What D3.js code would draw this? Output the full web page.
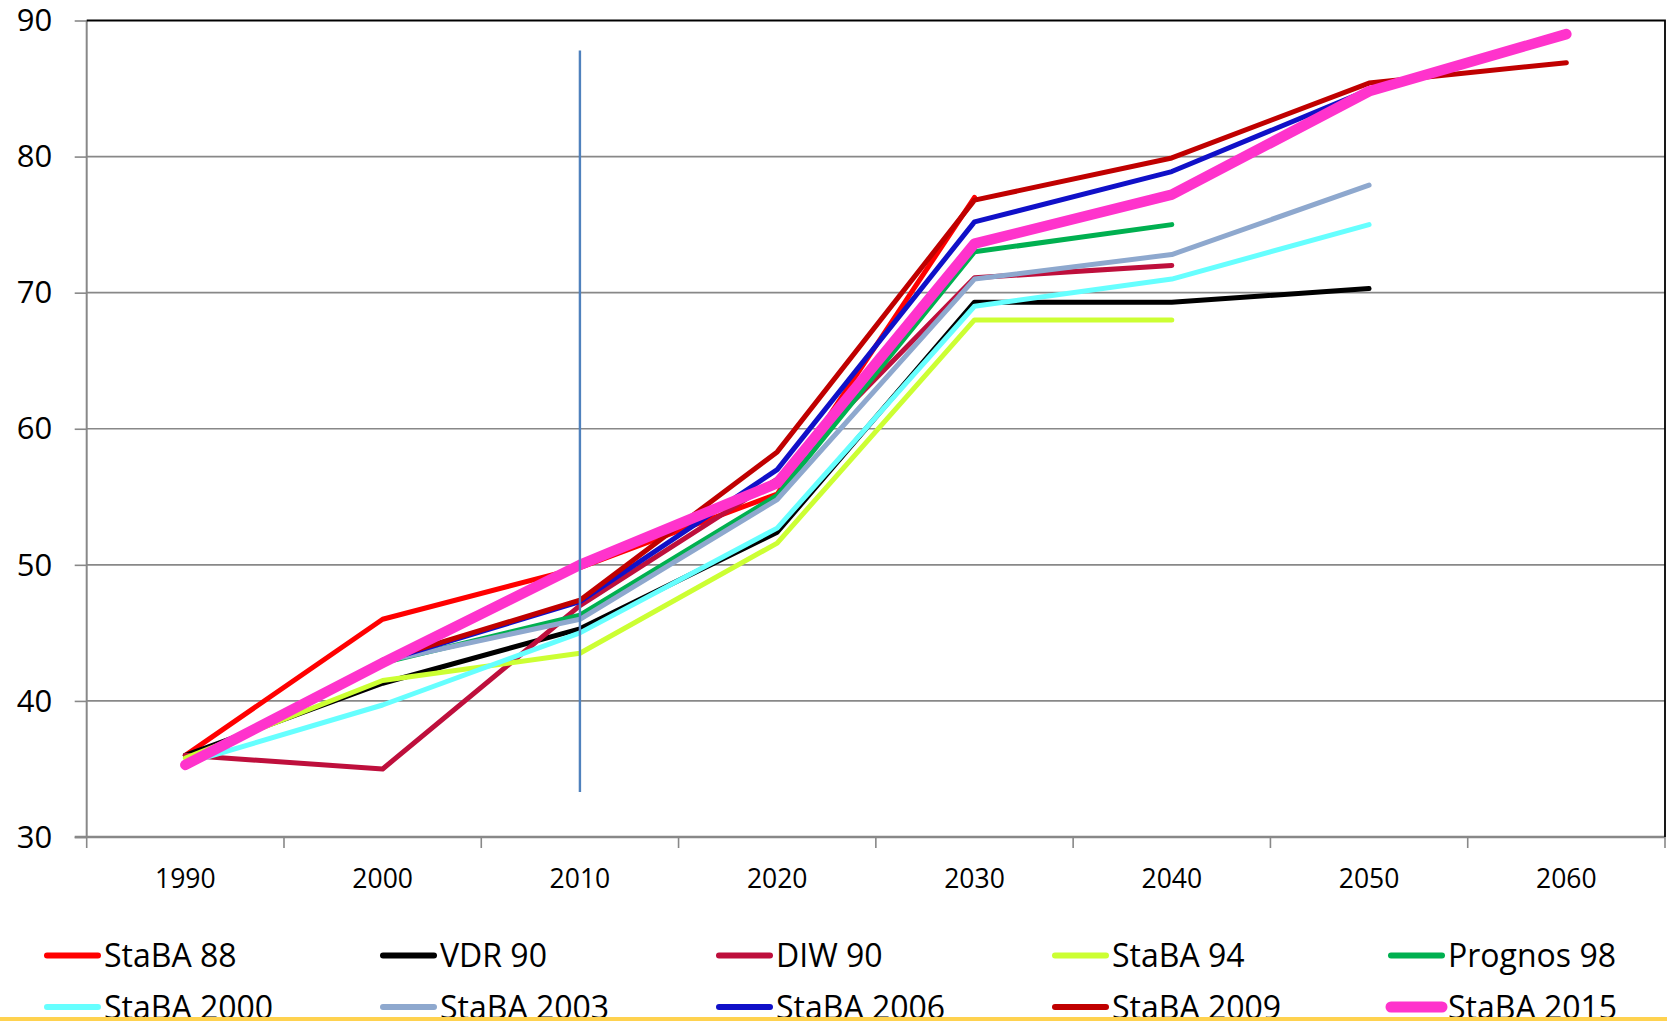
<!DOCTYPE html>
<html><head><meta charset="utf-8">
<script src="https://cdn.jsdelivr.net/npm/d3@7"></script>
<style>
html,body{margin:0;padding:0;background:#fff;overflow:hidden}
svg{display:block}
text{font-family:"Open Sans",sans-serif;fill:#000}
</style></head>
<body>
<svg id="c" width="1667" height="1021"></svg>
<script>
const years = ["1990","2000","2010","2020","2030","2040","2050","2060"];
const yTicks = [30,40,50,60,70,80,90];

const seriesNames = ["StaBA 88","VDR 90","DIW 90","StaBA 94","Prognos 98","StaBA 2000","StaBA 2003","StaBA 2006","StaBA 2009","StaBA 2015"];
const seriesColors = ["#FF0000","#000000","#BE0F3C","#CCFF33","#00B050","#66FFFF","#8EA8CE","#1010C8","#C00000","#FF33CC"];

const staba88   = [36.0, 46.0, 49.8, 55.2, 77.0, null, null, null];
const vdr90     = [36.0, 41.3, 45.3, 52.4, 69.3, 69.3, 70.3, null];
const diw90     = [36.0, 35.0, 47.0, 56.3, 71.1, 72.0, null, null];
const staba94   = [35.8, 41.5, 43.5, 51.6, 68.0, 68.0, null, null];
const prognos98 = [null, 42.8, 46.3, 55.1, 73.0, 75.0, null, null];
const staba2000 = [35.4, 39.7, 45.0, 52.7, 69.0, 71.0, 75.0, null];
const staba2003 = [null, 42.9, 46.0, 54.8, 71.0, 72.8, 77.9, null];
const staba2006 = [null, 42.9, 47.3, 57.0, 75.2, 78.9, 84.9, null];
const staba2009 = [null, 43.0, 47.4, 58.3, 76.8, 79.9, 85.4, 86.9];
const staba2015 = [35.3, 42.8, 50.0, 56.0, 73.6, 77.2, 84.8, 89.0];
const seriesValues = [staba88, vdr90, diw90, staba94, prognos98, staba2000, staba2003, staba2006, staba2009, staba2015];

const markerYear = "2010";

const svg = d3.select("#c");
const L = 86.7, R = 1665, T = 20.5, B = 837;

const x = d3.scaleBand().domain(years).range([L, R]).padding(0);
const y = d3.scaleLinear().domain([30, 90]).range([B, T]);
const cx = d => x(d) + x.bandwidth() / 2;

// gridlines
svg.append("g").selectAll("line").data(yTicks.filter(v => v > 30 && v < 90)).join("line")
  .attr("x1", L).attr("x2", R).attr("y1", d => y(d)).attr("y2", d => y(d))
  .attr("stroke", "#888").attr("stroke-width", 1.6);

// Y axis
const gy = svg.append("g").attr("transform", `translate(${L},0)`)
  .call(d3.axisLeft(y).tickValues(yTicks).tickSize(12).tickPadding(22.5).tickFormat(d3.format("d")));
gy.select(".domain").remove();
gy.selectAll(".tick line").attr("stroke", "#888").attr("stroke-width", 1.6);
gy.selectAll(".tick text").attr("font-size", 31).attr("font-family", "Open Sans").attr("fill", "#000").attr("dy", "0.33em");
svg.append("line").attr("x1", L).attr("x2", L).attr("y1", T).attr("y2", B)
  .attr("stroke", "#888").attr("stroke-width", 2);

// X axis
const gx = svg.append("g").attr("transform", `translate(0,${B})`)
  .call(d3.axisBottom(x).tickSize(0));
gx.select(".domain").remove();
gx.selectAll(".tick text").attr("font-size", 26.5).attr("font-family", "Open Sans").attr("fill", "#000")
  .attr("y", 50.5).attr("dy", 0);
const bounds = d3.range(years.length + 1).map(i => L + i * x.bandwidth());
svg.append("g").selectAll("line").data(bounds).join("line")
  .attr("x1", d => d).attr("x2", d => d).attr("y1", B).attr("y2", B + 11)
  .attr("stroke", "#888").attr("stroke-width", 1.6);
svg.append("line").attr("x1", L - 12).attr("x2", R).attr("y1", B).attr("y2", B)
  .attr("stroke", "#888").attr("stroke-width", 2.6);

// top & right border
svg.append("path").attr("d", `M${L},${T}H${R}V${B}`).attr("fill", "none")
  .attr("stroke", "#000").attr("stroke-width", 1.8);

// series lines
const line = d3.line().defined(d => d.v !== null).x(d => cx(d.year)).y(d => y(d.v));
seriesValues.forEach((vals, i) => {
  const data = years.map((yr, j) => ({year: yr, v: vals[j]}));
  svg.append("path").datum(data).attr("d", line)
    .attr("fill", "none").attr("stroke", seriesColors[i])
    .attr("stroke-width", i === 9 ? 10.5 : 5)
    .attr("stroke-linejoin", "round").attr("stroke-linecap", "round");
});

// vertical marker at 2010
svg.append("line").attr("x1", cx(markerYear)).attr("x2", cx(markerYear))
  .attr("y1", y(87.8)).attr("y2", y(33.3))
  .attr("stroke", "#4F81BD").attr("stroke-width", 2.4);

// legend
const colX = [45, 381, 717, 1053, 1389];
const rowY = [955.5, 1007];
const lg = svg.append("g");
seriesNames.forEach((name, i) => {
  const c = i % 5, r = Math.floor(i / 5);
  const x0 = colX[c], yy = rowY[r];
  lg.append("line").attr("x1", x0 + 2).attr("x2", x0 + 53).attr("y1", yy).attr("y2", yy)
    .attr("stroke", seriesColors[i]).attr("stroke-width", i === 9 ? 11 : 6).attr("stroke-linecap", "round");
  lg.append("text").attr("x", x0 + 59).attr("y", yy + 11.5).attr("font-size", 32).text(name);
});

// bottom yellow strip
svg.append("rect").attr("x", 0).attr("y", 1017).attr("width", 1667).attr("height", 4).attr("fill", "#FFD24F");
</script>
</body></html>
